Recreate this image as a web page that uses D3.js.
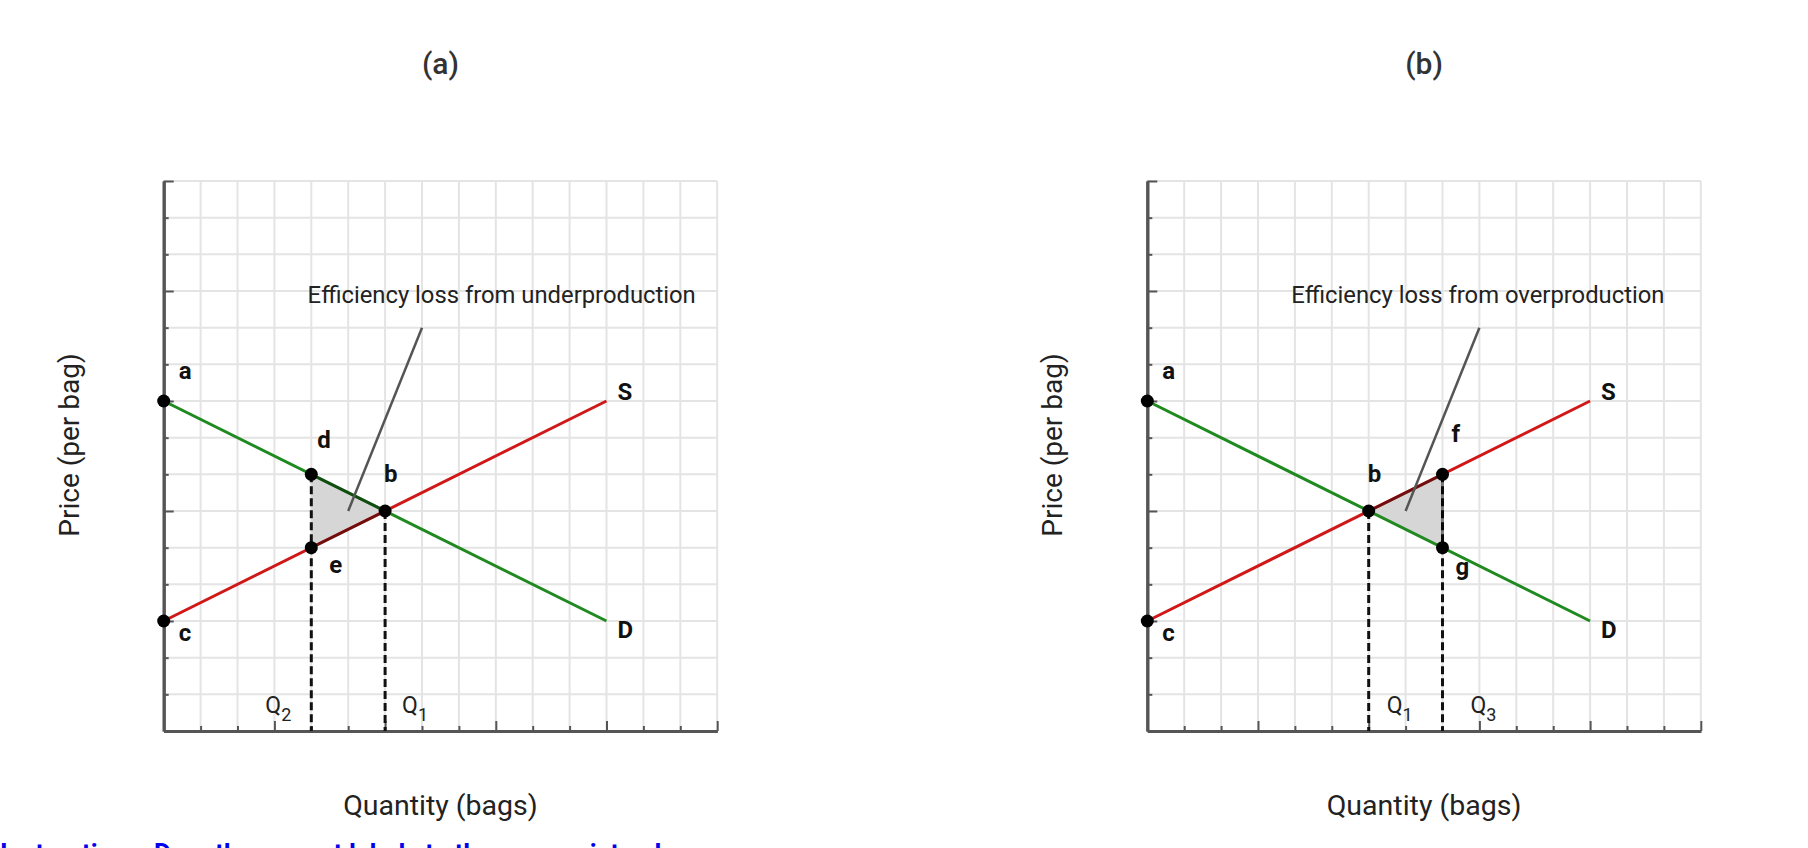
<!DOCTYPE html>
<html>
<head>
<meta charset="utf-8">
<script src="https://cdn.jsdelivr.net/npm/d3@7"></script>
<style>
  html, body { margin: 0; padding: 0; background: #fff; }
  svg { display: block; }
  text { font-family: Roboto, "Noto Sans", sans-serif; }
</style>
</head>
<body>
<svg id="chart" width="1808" height="848"></svg>
<script>
// ---------- data ----------
const panelTitles = ["(a)", "(b)"];
const axisMax = 15;
const longTickValues = [3, 6, 9, 12, 15];
const shortTickValues = [1, 2, 4, 5, 7, 8, 10, 11, 13, 14];
const supplyLine = [[0, 3], [12, 9]];
const demandLine = [[0, 9], [12, 3]];
const lineLabels = ["S", "D"];
// panel (a): underproduction
const pointsA = [["a", 0, 9], ["c", 0, 3], ["d", 4, 7], ["e", 4, 5], ["b", 6, 6]];
const triangleA = [[4, 7], [6, 6], [4, 5]];
const dropsA = [[4, 7], [6, 6]];
const qLabelsA = [["Q", "2", 4], ["Q", "1", 6]];
const pointerA = [[7, 11], [5, 6]];
const noteA = "Efficiency loss from underproduction";
// panel (b): overproduction
const pointsB = [["a", 0, 9], ["c", 0, 3], ["b", 6, 6], ["f", 8, 7], ["g", 8, 5]];
const triangleB = [[6, 6], [8, 7], [8, 5]];
const dropsB = [[6, 6], [8, 7]];
const qLabelsB = [["Q", "1", 6], ["Q", "3", 8]];
const pointerB = [[9, 11], [7, 6]];
const noteB = "Efficiency loss from overproduction";
const yLabel = "Price (per bag)";
const xLabel = "Quantity (bags)";
const footerText = "Instructions: Drag the correct labels to the appropriate places.";

// ---------- drawing ----------
const svg = d3.select("#chart");

const labelOffsets = {
  a: [15, -22], c: [15, 20], d: [6, -26], e: [18, 25], b: [-1, -29],
  f: [9, -32], g: [13, 27]
};
const qOffsets = { A: [[-46], [17]], B: [[18], [28]] };

function drawPanel(cfg) {
  const x0 = cfg.x0, width = 553.5, top = 181, bottom = 731;
  const x = d3.scaleLinear().domain([0, axisMax]).range([x0, x0 + width]);
  const y = d3.scaleLinear().domain([0, axisMax]).range([bottom, top]);
  const g = svg.append("g");

  // title
  g.append("text").attr("x", x(7.5)).attr("y", 74).attr("text-anchor", "middle")
    .attr("font-size", 30).attr("font-weight", 500).attr("fill", "#333").text(cfg.title);

  // grid
  const grid = g.append("g");
  grid.selectAll("line.v").data(d3.range(1, axisMax + 1)).join("line")
    .attr("x1", d => x(d)).attr("x2", d => x(d)).attr("y1", y(0)).attr("y2", y(axisMax))
    .attr("stroke", "#e4e4e4").attr("stroke-width", 2);
  grid.selectAll("line.h").data(d3.range(1, axisMax + 1)).join("line")
    .attr("y1", d => y(d)).attr("y2", d => y(d)).attr("x1", x(0)).attr("x2", x(axisMax))
    .attr("stroke", "#e4e4e4").attr("stroke-width", 2);

  // axes
  function styleAxis(sel) {
    sel.selectAll("path").attr("stroke", "#555").attr("stroke-width", 3);
    sel.selectAll("line").attr("stroke", "#555").attr("stroke-width", 2);
    sel.selectAll("text").remove();
  }
  g.append("g").attr("transform", `translate(${x(0)},0)`)
    .call(d3.axisRight(y).tickValues(longTickValues).tickSize(10).tickSizeOuter(0).tickFormat(""))
    .call(styleAxis);
  g.append("g").attr("transform", `translate(${x(0)},0)`)
    .call(d3.axisRight(y).tickValues(shortTickValues).tickSize(5).tickSizeOuter(0).tickFormat(""))
    .call(styleAxis);
  g.append("g").attr("transform", `translate(0,${y(0)})`)
    .call(d3.axisTop(x).tickValues(longTickValues).tickSize(10).tickSizeOuter(0).tickFormat(""))
    .call(styleAxis);
  g.append("g").attr("transform", `translate(0,${y(0)})`)
    .call(d3.axisTop(x).tickValues(shortTickValues).tickSize(5).tickSizeOuter(0).tickFormat(""))
    .call(styleAxis);

  // axis labels
  g.append("text").attr("x", x(7.5)).attr("y", 815).attr("text-anchor", "middle")
    .attr("font-size", 28.5).attr("fill", "#222").text(xLabel);
  g.append("text").attr("transform", `translate(${x0 - 85},${445}) rotate(-90)`)
    .attr("text-anchor", "middle").attr("font-size", 28).attr("fill", "#222").text(yLabel);

  const line = d3.line().x(d => x(d[0])).y(d => y(d[1]));

  // triangle
  g.append("path").datum(cfg.triangle).attr("d", d => line(d) + "Z")
    .attr("fill", "#d6d6d6").attr("stroke", "none");

  // dashed drops
  g.selectAll("line.drop").data(cfg.drops).join("line")
    .attr("x1", d => x(d[0])).attr("x2", d => x(d[0]))
    .attr("y1", d => y(d[1])).attr("y2", y(0))
    .attr("stroke", "#111").attr("stroke-width", 3).attr("stroke-dasharray", "8,4");

  // supply & demand
  g.append("path").datum(supplyLine).attr("d", line).attr("fill", "none")
    .attr("stroke", "#d01818").attr("stroke-width", 3);
  g.append("path").datum(demandLine).attr("d", line).attr("fill", "none")
    .attr("stroke", "#1f8a1f").attr("stroke-width", 3);

  // darken edges of triangle along curves
  g.append("path").datum(cfg.triangle).attr("d", line).attr("fill", "none")
    .attr("stroke", "rgba(0,0,0,0.45)").attr("stroke-width", 3);

  // pointer
  g.append("path").datum(cfg.pointer).attr("d", line)
    .attr("stroke", "#555").attr("stroke-width", 2.5).attr("fill", "none");
  g.append("text").attr("x", x(3.9)).attr("y", y(11.67))
    .attr("font-size", 23.8).attr("fill", "#222").text(cfg.note);

  // line end labels
  g.append("text").attr("x", x(supplyLine[1][0]) + 11).attr("y", y(supplyLine[1][1]) - 1)
    .attr("font-size", 24).attr("font-weight", "bold").attr("fill", "#111").text(lineLabels[0]);
  g.append("text").attr("x", x(demandLine[1][0]) + 11).attr("y", y(demandLine[1][1]) + 17)
    .attr("font-size", 24).attr("font-weight", "bold").attr("fill", "#111").text(lineLabels[1]);

  // points
  g.selectAll("circle.pt").data(cfg.points).join("circle")
    .attr("cx", d => x(d[1])).attr("cy", d => y(d[2])).attr("r", 6.5).attr("fill", "#000");
  g.selectAll("text.pt").data(cfg.points).join("text")
    .attr("x", d => x(d[1]) + labelOffsets[d[0]][0])
    .attr("y", d => y(d[2]) + labelOffsets[d[0]][1])
    .attr("font-size", 24).attr("font-weight", "bold").attr("fill", "#111").text(d => d[0]);

  // Q labels
  cfg.qLabels.forEach((q, i) => {
    const t = g.append("text").attr("x", x(q[2]) + cfg.qOff[i][0]).attr("y", 713)
      .attr("font-size", 23).attr("fill", "#222");
    t.append("tspan").text(q[0]);
    t.append("tspan").attr("dy", 8).attr("font-size", 18).text(q[1]);
  });
}

drawPanel({ x0: 163.7, title: panelTitles[0], points: pointsA, triangle: triangleA,
  drops: dropsA, qLabels: qLabelsA, qOff: qOffsets.A, pointer: pointerA, note: noteA });
drawPanel({ x0: 1147.3, title: panelTitles[1], points: pointsB, triangle: triangleB,
  drops: dropsB, qLabels: qLabelsB, qOff: qOffsets.B, pointer: pointerB, note: noteB });

svg.append("text").attr("x", 0).attr("y", 862).attr("font-size", 26).attr("font-weight", "bold")
  .attr("fill", "#0000ee").text(footerText);
</script>
</body>
</html>
